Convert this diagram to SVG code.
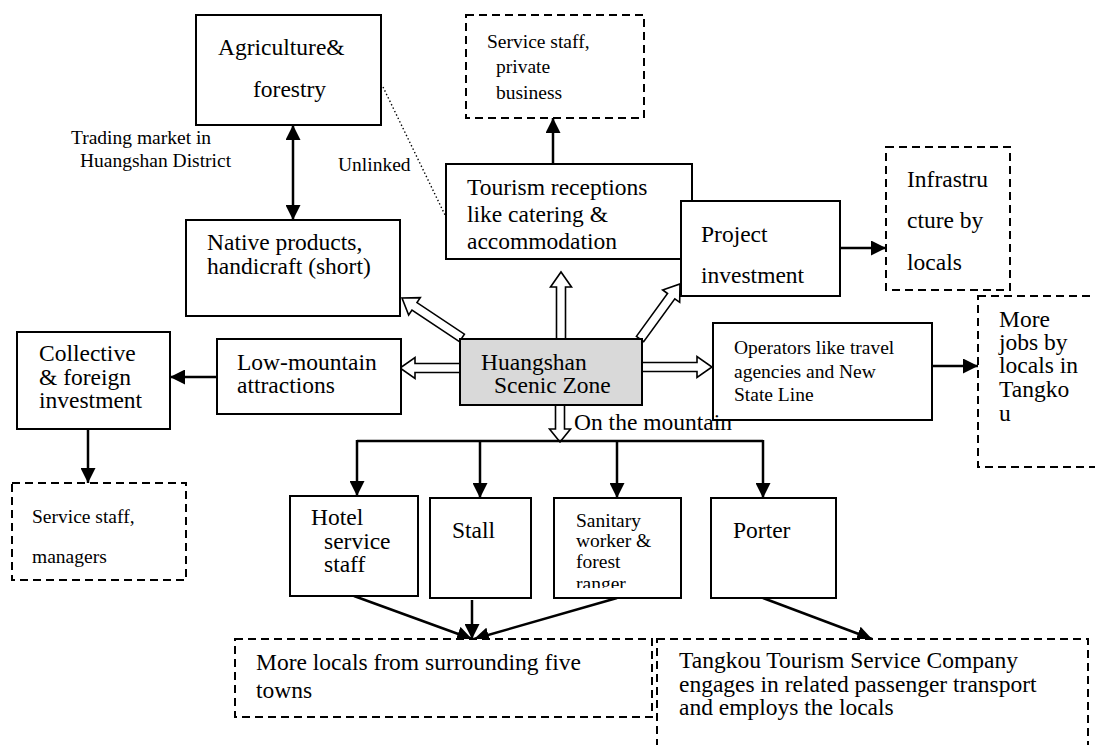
<svg xmlns="http://www.w3.org/2000/svg" width="1095" height="745" viewBox="0 0 1095 745">
  <style>
    .box { fill: #ffffff; stroke: #000000; stroke-width: 2; }
    .core { fill: #d9d9d9; stroke: #000000; stroke-width: 2; }
    .dash { fill: #ffffff; stroke: #000000; stroke-width: 2; stroke-dasharray: 8 5; }
    .lg { font-family: "Liberation Serif", "Times New Roman", serif; font-size: 23.5px; fill: #000000; }
    .sm { font-family: "Liberation Serif", "Times New Roman", serif; font-size: 19.5px; fill: #000000; }
    .wire { fill: none; stroke: #000000; stroke-width: 2.5; }
    .hollow { fill: #ffffff; stroke: #000000; stroke-width: 1.6; stroke-linejoin: miter; }
    .dots { fill: none; stroke: #000000; stroke-width: 1.4; stroke-dasharray: 1.4 2.4; }
  </style>
  <defs>
    <marker id="head" viewBox="0 0 10 10" refX="10" refY="5" markerWidth="15" markerHeight="15" markerUnits="userSpaceOnUse" orient="auto-start-reverse">
      <path d="M0,0 L10,5 L0,10 Z" fill="#000000"/>
    </marker>
    <clipPath id="clip-sanitary">
      <rect x="554" y="498" width="127" height="90"/>
    </clipPath>
  </defs>

  <rect x="0" y="0" width="1095" height="745" fill="#ffffff"/>

  <!-- connectors -->
  <g id="connectors">
    <!-- hollow arrows leaving the scenic zone -->
    <polygon class="hollow" transform="translate(561,272) rotate(-90)" points="-67,-4.5 -15,-4.5 -15,-10.5 0,0 -15,10.5 -15,4.5 -67,4.5"/>
    <polygon class="hollow" transform="translate(400,368) rotate(180)" points="-60,-4.5 -15,-4.5 -15,-10.5 0,0 -15,10.5 -15,4.5 -60,4.5"/>
    <polygon class="hollow" transform="translate(712,367)" points="-70,-4.5 -15,-4.5 -15,-10.5 0,0 -15,10.5 -15,4.5 -70,4.5"/>
    <polygon class="hollow" transform="translate(402,298) rotate(213.7)" points="-72,-4.5 -15,-4.5 -15,-10.5 0,0 -15,10.5 -15,4.5 -72,4.5"/>
    <polygon class="hollow" transform="translate(680,284) rotate(-54)" points="-68,-4.5 -15,-4.5 -15,-10.5 0,0 -15,10.5 -15,4.5 -68,4.5"/>
    <polygon class="hollow" transform="translate(560,442) rotate(90)" points="-37,-4.5 -13,-4.5 -13,-10.5 0,0 -13,10.5 -13,4.5 -37,4.5"/>

    <!-- solid arrows -->
    <line class="wire" x1="293" y1="125" x2="293" y2="220" stroke-width="3" marker-start="url(#head)" marker-end="url(#head)"/>
    <line class="wire" x1="553" y1="164" x2="553" y2="118" marker-end="url(#head)"/>
    <line class="wire" x1="840" y1="248" x2="886" y2="248" marker-end="url(#head)"/>
    <line class="wire" x1="932" y1="366" x2="978" y2="366" marker-end="url(#head)"/>
    <line class="wire" x1="217" y1="377" x2="170" y2="377" marker-end="url(#head)"/>
    <line class="wire" x1="88" y1="429" x2="88" y2="483" marker-end="url(#head)"/>

    <!-- on-the-mountain distribution bus -->
    <path class="wire" d="M357,441 L763,441"/>
    <line class="wire" x1="357" y1="440" x2="357" y2="496" marker-end="url(#head)"/>
    <line class="wire" x1="480" y1="441" x2="480" y2="498" marker-end="url(#head)"/>
    <line class="wire" x1="617" y1="441" x2="617" y2="498" marker-end="url(#head)"/>
    <line class="wire" x1="763" y1="440" x2="763" y2="498" marker-end="url(#head)"/>

    <!-- jobs feeding the surrounding towns -->
    <line class="wire" x1="354" y1="596" x2="472" y2="639" marker-end="url(#head)"/>
    <line class="wire" x1="472" y1="600" x2="472" y2="639" marker-end="url(#head)"/>
    <line class="wire" x1="617" y1="598" x2="474" y2="639" marker-end="url(#head)"/>
    <line class="wire" x1="763" y1="598" x2="872" y2="639" marker-end="url(#head)"/>

    <!-- unlinked relation -->
    <line class="dots" x1="383" y1="87" x2="445" y2="215"/>
  </g>

  <!-- nodes -->
  <g id="agriculture">
    <rect class="box" x="196" y="15" width="185" height="110"/>
    <text class="lg" x="218" y="55">Agriculture&amp;</text>
    <text class="lg" x="253" y="97">forestry</text>
  </g>

  <g id="service-private">
    <rect class="dash" x="466" y="15" width="178" height="103"/>
    <text class="sm" x="487" y="48">Service staff,</text>
    <text class="sm" x="496" y="73">private</text>
    <text class="sm" x="496" y="99">business</text>
  </g>

  <g id="native-products">
    <rect class="box" x="186" y="220" width="214" height="96"/>
    <text class="lg" x="207" y="250">Native products,</text>
    <text class="lg" x="207" y="274">handicraft (short)</text>
  </g>

  <g id="tourism-receptions">
    <rect class="box" x="446" y="164" width="246" height="95"/>
    <text class="lg" x="467" y="195">Tourism receptions</text>
    <text class="lg" x="467" y="222">like catering &amp;</text>
    <text class="lg" x="467" y="249">accommodation</text>
  </g>

  <g id="project-investment">
    <rect class="box" x="681" y="201" width="159" height="95"/>
    <text class="lg" x="701" y="242">Project</text>
    <text class="lg" x="701" y="283">investment</text>
  </g>

  <g id="infrastructure">
    <rect class="dash" x="886" y="147" width="124" height="143"/>
    <text class="lg" x="907" y="187">Infrastru</text>
    <text class="lg" x="907" y="228">cture by</text>
    <text class="lg" x="907" y="270">locals</text>
  </g>

  <g id="more-jobs">
    <rect class="dash" x="978" y="296" width="130" height="171"/>
    <text class="lg" x="999" y="327">More</text>
    <text class="lg" x="999" y="350">jobs by</text>
    <text class="lg" x="999" y="373">locals in</text>
    <text class="lg" x="999" y="397">Tangko</text>
    <text class="lg" x="999" y="421">u</text>
  </g>

  <g id="collective">
    <rect class="box" x="17" y="332" width="153" height="97"/>
    <text class="lg" x="39" y="361">Collective</text>
    <text class="lg" x="39" y="385">&amp; foreign</text>
    <text class="lg" x="39" y="408">investment</text>
  </g>

  <g id="low-mountain">
    <rect class="box" x="217" y="339" width="184" height="75"/>
    <text class="lg" x="237" y="370">Low-mountain</text>
    <text class="lg" x="237" y="393">attractions</text>
  </g>

  <g id="scenic-zone">
    <rect class="core" x="460" y="339" width="182" height="66"/>
    <text class="lg" x="481" y="370">Huangshan</text>
    <text class="lg" x="494" y="393">Scenic Zone</text>
  </g>

  <g id="operators">
    <rect class="box" x="713" y="323" width="219" height="97"/>
    <text class="sm" x="734" y="354">Operators like travel</text>
    <text class="sm" x="734" y="378">agencies and New</text>
    <text class="sm" x="734" y="401">State Line</text>
  </g>

  <g id="service-managers">
    <rect class="dash" x="12" y="483" width="174" height="97"/>
    <text class="sm" x="32" y="523">Service staff,</text>
    <text class="sm" x="32" y="563">managers</text>
  </g>

  <g id="hotel-staff">
    <rect class="box" x="290" y="496" width="128" height="100"/>
    <text class="lg" x="311" y="525">Hotel</text>
    <text class="lg" x="324" y="549">service</text>
    <text class="lg" x="324" y="572">staff</text>
  </g>

  <g id="stall">
    <rect class="box" x="430" y="498" width="101" height="100"/>
    <text class="lg" x="452" y="538">Stall</text>
  </g>

  <g id="sanitary">
    <rect class="box" x="554" y="498" width="127" height="100"/>
    <g clip-path="url(#clip-sanitary)">
      <text class="sm" x="576" y="527">Sanitary</text>
      <text class="sm" x="576" y="547">worker &amp;</text>
      <text class="sm" x="576" y="568">forest</text>
      <text class="sm" x="576" y="590">ranger</text>
    </g>
  </g>

  <g id="porter">
    <rect class="box" x="711" y="498" width="125" height="100"/>
    <text class="lg" x="733" y="538">Porter</text>
  </g>

  <g id="five-towns">
    <rect class="dash" x="235" y="639" width="417" height="78"/>
    <text class="lg" x="256" y="670">More locals from surrounding five</text>
    <text class="lg" x="256" y="698">towns</text>
  </g>

  <g id="tangkou-company">
    <rect class="dash" x="657" y="639" width="431" height="130"/>
    <text class="lg" x="679" y="668">Tangkou Tourism Service Company</text>
    <text class="lg" x="679" y="692">engages in related passenger transport</text>
    <text class="lg" x="679" y="715">and employs the locals</text>
  </g>

  <!-- connector labels -->
  <g id="labels">
    <text class="sm" x="71" y="144">Trading market in</text>
    <text class="sm" x="80" y="167">Huangshan District</text>
    <text class="sm" x="338" y="171">Unlinked</text>
    <text class="lg" x="574" y="430">On the mountain</text>
  </g>
</svg>
